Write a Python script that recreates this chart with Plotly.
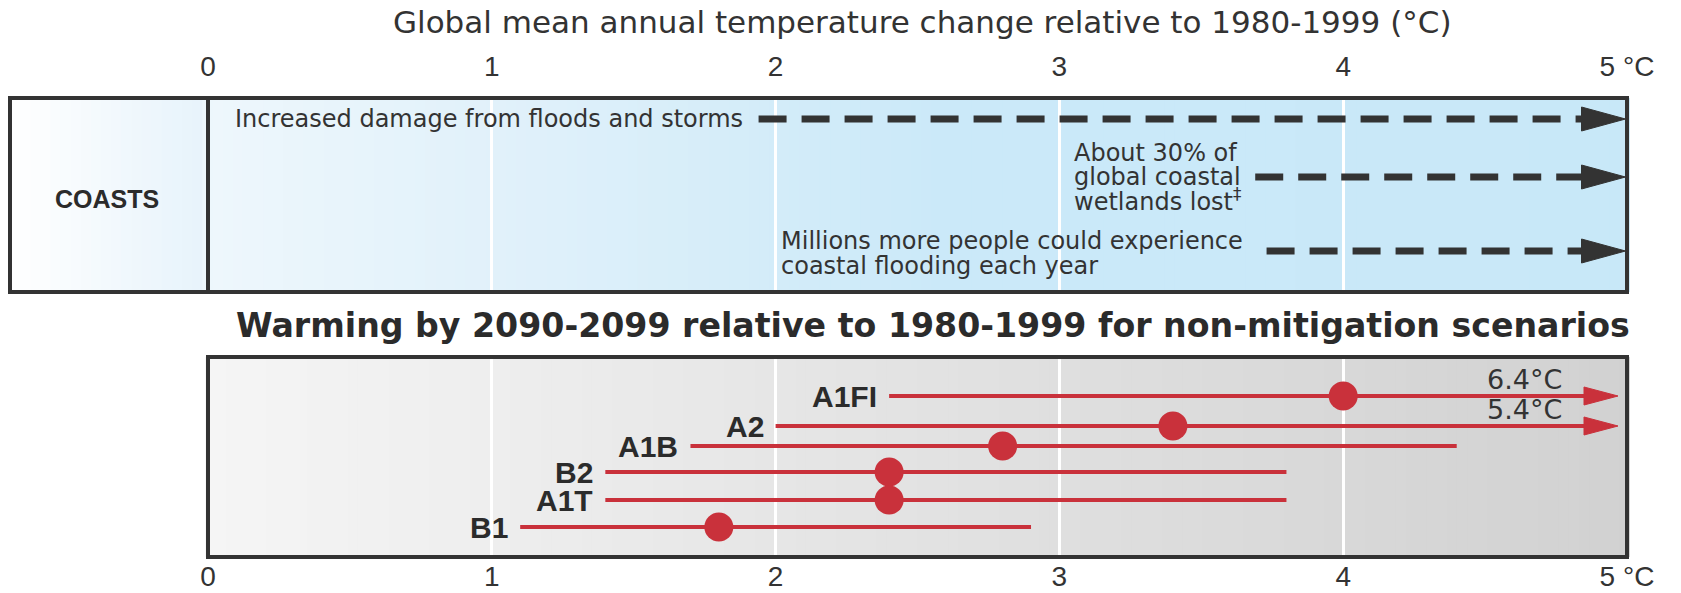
import plotly.graph_objects as go

# ---------------- data ----------------
scenarios = ['A1FI', 'A2', 'A1B', 'B2', 'A1T', 'B1']
best_est = [4.0, 3.4, 2.8, 2.4, 2.4, 1.8]
low_est = [2.4, 2.0, 1.7, 1.4, 1.4, 1.1]
high_est = [6.4, 5.4, 4.4, 3.8, 3.8, 2.9]

impact_lines = [
    ['Increased damage from floods and storms'],
    ['About 30% of', 'global coastal', 'wetlands lost<sup>‡</sup>'],
    ['Millions more people could experience', 'coastal flooding each year'],
]
impact_start = [1.94, 3.69, 3.73]

tick_vals = [0, 1, 2, 3, 4, 5]
tick_text = ['0', '1', '2', '3', '4', '5 °C']

sector = 'COASTS'
title_top = 'Global mean annual temperature change relative to 1980-1999 (°C)'
title_bottom = 'Warming by 2090-2099 relative to 1980-1999 for non-mitigation scenarios'

# ---------------- layout geometry (pixels) ----------------
W, H = 1681, 593
X0PX, PXC = 208.0, 283.8          # pixel of 0 °C, pixels per °C
TOP_Y0, TOP_Y1 = 98, 292          # top panel (px from top)
BOT_Y0, BOT_Y1 = 357, 557         # bottom panel
LEFT_PX = 10
AX_MAX = 5.0

impact_row_px = [119, 177, 251]
impact_text_px = [[119], [153, 177, 200], [241, 266]]
impact_text_left_px = [None, 1072, 779]
scen_row_px = [396, 426, 446, 472, 500, 527]

RED = '#c9313b'
DARK = '#333333'


def px(v):
    return X0PX + PXC * v


def fx(p):
    return p / W


def fy(p):
    return 1 - p / H


def ty(p):
    return (TOP_Y1 - p) / (TOP_Y1 - TOP_Y0)


def by(p):
    return (BOT_Y1 - p) / (BOT_Y1 - BOT_Y0)


def hex2rgb(h):
    h = h.lstrip('#')
    return tuple(int(h[i:i + 2], 16) for i in (0, 2, 4))


def interp_color(stops, v):
    for (a, ca), (b, cb) in zip(stops[:-1], stops[1:]):
        if a <= v <= b:
            t = 0 if b == a else (v - a) / (b - a)
            r1, r2 = hex2rgb(ca), hex2rgb(cb)
            c = [round(r1[i] + (r2[i] - r1[i]) * t) for i in range(3)]
            return 'rgb(%d,%d,%d)' % tuple(c)
    return stops[-1][1] if v > stops[-1][0] else stops[0][1]


def grad_shapes(x_lo, x_hi, stops, xref, yref, n):
    out = []
    for i in range(n):
        a = x_lo + (x_hi - x_lo) * i / n
        b = x_lo + (x_hi - x_lo) * (i + 1) / n
        out.append(dict(type='rect', xref=xref, yref=yref, x0=a, x1=b + (x_hi - x_lo) / n * 0.6,
                        y0=0, y1=1, fillcolor=interp_color(stops, (a + b) / 2),
                        line=dict(width=0), layer='below'))
    return out


top_lo = (LEFT_PX - X0PX) / PXC
top_hi = 5.01
bot_lo, bot_hi = -0.01, 5.01

fig = go.Figure()

# ---------------- top panel: impact arrows ----------------
tip = AX_MAX - 1.5 / PXC
head_len_top = 44 / PXC
head_h_top = 24 / (TOP_Y1 - TOP_Y0)
for i, start in enumerate(impact_start):
    yv = ty(impact_row_px[i])
    base = tip - head_len_top
    fig.add_trace(go.Scatter(x=[start, base + 4 / PXC], y=[yv, yv], mode='lines',
                             line=dict(color=DARK, width=7, dash='28px,15px'),
                             xaxis='x', yaxis='y', hoverinfo='skip', showlegend=False))
    fig.add_trace(go.Scatter(x=[base, tip, base, base], y=[yv + head_h_top / 2, yv, yv - head_h_top / 2, yv + head_h_top / 2],
                             mode='lines', fill='toself', fillcolor=DARK, line=dict(color=DARK, width=1),
                             xaxis='x', yaxis='y', hoverinfo='skip', showlegend=False))

# ---------------- bottom panel: scenarios ----------------
tip_b = AX_MAX - 9 / PXC
head_len_b = 34 / PXC
head_h_b = 18 / (BOT_Y1 - BOT_Y0)
scen_y = [by(p) for p in scen_row_px]
for i, s in enumerate(scenarios):
    yv = scen_y[i]
    hi = high_est[i]
    clipped = hi > AX_MAX
    end = tip_b - head_len_b + 2 / PXC if clipped else hi
    fig.add_trace(go.Scatter(x=[low_est[i], end], y=[yv, yv], mode='lines',
                             line=dict(color=RED, width=4), xaxis='x2', yaxis='y2',
                             hoverinfo='skip', showlegend=False))
    if clipped:
        base = tip_b - head_len_b
        fig.add_trace(go.Scatter(x=[base, tip_b, base, base], y=[yv + head_h_b / 2, yv, yv - head_h_b / 2, yv + head_h_b / 2],
                                 mode='lines', fill='toself', fillcolor=RED, line=dict(color=RED, width=1),
                                 xaxis='x2', yaxis='y2', hoverinfo='skip', showlegend=False))

fig.add_trace(go.Scatter(x=best_est, y=scen_y, mode='markers',
                         marker=dict(color=RED, size=29, line=dict(width=0)),
                         xaxis='x2', yaxis='y2', hoverinfo='skip', showlegend=False))

# ---------------- shapes: gradients, borders ----------------
shapes = []
top_stops = [(top_lo, '#ffffff'), (-0.02, '#e7f3fb'), (0.0, '#eef7fc'), (1.0, '#e1f1fa'),
             (2.0, '#d3ecf9'), (2.6, '#cbe9f9'), (5.05, '#c8e8f8')]
shapes += grad_shapes(top_lo, top_hi, top_stops, 'x', 'y domain', 160)
bot_stops = [(0.0, '#f5f5f5'), (1.0, '#eeeeee'), (2.0, '#e6e6e6'), (3.0, '#dfdfdf'),
             (4.0, '#d8d8d8'), (5.05, '#d1d1d1')]
shapes += grad_shapes(bot_lo, bot_hi, bot_stops, 'x2', 'y2 domain', 140)

border = dict(color=DARK, width=4)
shapes.append(dict(type='rect', xref='paper', yref='paper', x0=fx(LEFT_PX), x1=fx(px(AX_MAX)),
                   y0=fy(TOP_Y1), y1=fy(TOP_Y0), line=border, fillcolor='rgba(0,0,0,0)', layer='above'))
shapes.append(dict(type='line', xref='paper', yref='paper', x0=fx(px(0)), x1=fx(px(0)),
                   y0=fy(TOP_Y1), y1=fy(TOP_Y0), line=border, layer='above'))
shapes.append(dict(type='rect', xref='paper', yref='paper', x0=fx(px(0)), x1=fx(px(AX_MAX)),
                   y0=fy(BOT_Y1), y1=fy(BOT_Y0), line=border, fillcolor='rgba(0,0,0,0)', layer='above'))

# ---------------- annotations ----------------
SANS = 'Liberation Sans, Arial, sans-serif'
WIDE = 'DejaVu Sans, Verdana, sans-serif'
ann = []
ann.append(dict(text=title_top, xref='paper', yref='paper', x=fx(922), y=fy(22), xanchor='center',
                yanchor='middle', showarrow=False, font=dict(family=WIDE, size=31, color=DARK)))
ann.append(dict(text='<b>%s</b>' % title_bottom, xref='paper', yref='paper', x=fx(933), y=fy(325),
                xanchor='center', yanchor='middle', showarrow=False,
                font=dict(family=WIDE, size=33.2, color='#2b2b2b')))
ann.append(dict(text='<b>%s</b>' % sector, xref='paper', yref='paper', x=fx(107), y=fy(199),
                xanchor='center', yanchor='middle', showarrow=False,
                font=dict(family=SANS, size=25, color='#2b2b2b')))

for i, lines in enumerate(impact_lines):
    for j, line in enumerate(lines):
        if impact_text_left_px[i] is None:
            ann.append(dict(text=line, xref='x', yref='paper', x=impact_start[i], xshift=-14,
                            y=fy(impact_text_px[i][j]), xanchor='right', yanchor='middle', showarrow=False,
                            font=dict(family=WIDE, size=24, color=DARK)))
        else:
            ann.append(dict(text=line, xref='paper', yref='paper', x=fx(impact_text_left_px[i]),
                            y=fy(impact_text_px[i][j]), xanchor='left', yanchor='middle', showarrow=False,
                            font=dict(family=WIDE, size=24, color=DARK)))

for i, s in enumerate(scenarios):
    ann.append(dict(text='<b>%s</b>' % s, xref='x2', yref='y2', x=low_est[i], xshift=-10, y=scen_y[i],
                    xanchor='right', yanchor='middle', showarrow=False,
                    font=dict(family=SANS, size=30, color='#2b2b2b')))
    if high_est[i] > AX_MAX:
        ann.append(dict(text='%.1f°C' % high_est[i], xref='x2', yref='y2', x=4.64, y=scen_y[i], yshift=17,
                        xanchor='center', yanchor='middle', showarrow=False,
                        font=dict(family=WIDE, size=27, color=DARK)))

axis_common = dict(tickvals=tick_vals, ticktext=tick_text, showgrid=True, gridcolor='white', gridwidth=3,
                   zeroline=False, showline=False, tickcolor='rgba(0,0,0,0)',
                   tickfont=dict(family=SANS, size=28, color=DARK), fixedrange=True, automargin=False)

fig.update_layout(
    width=W, height=H, margin=dict(l=0, r=0, t=0, b=0, pad=0, autoexpand=False),
    paper_bgcolor='white', plot_bgcolor='rgba(0,0,0,0)',
    xaxis=dict(domain=[fx(LEFT_PX), fx(px(top_hi))], range=[top_lo, top_hi], side='top', anchor='y',
               ticks='outside', ticklen=10, **axis_common),
    yaxis=dict(domain=[fy(TOP_Y1), fy(TOP_Y0)], range=[0, 1], visible=False, fixedrange=True, automargin=False),
    xaxis2=dict(domain=[fx(px(bot_lo)), fx(px(bot_hi))], range=[bot_lo, bot_hi], side='bottom', anchor='y2',
                ticks='', **axis_common),
    yaxis2=dict(domain=[fy(BOT_Y1), fy(BOT_Y0)], range=[0, 1], visible=False, fixedrange=True, automargin=False),
    shapes=shapes, annotations=ann, showlegend=False,
)

fig.write_html('out.html', config={'displayModeBar': False},
               post_script="document.body.style.margin='0px';document.body.style.overflow='hidden';")
